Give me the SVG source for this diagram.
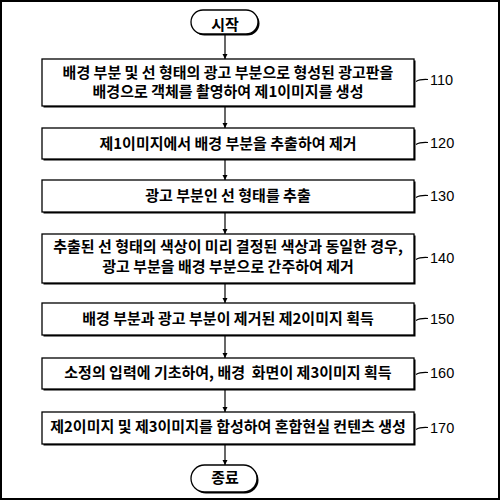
<svg xmlns="http://www.w3.org/2000/svg" width="500" height="500" viewBox="0 0 500 500">
<defs>
<marker id="ah" viewBox="0 0 10 10" refX="10" refY="5" markerWidth="5" markerHeight="7" markerUnits="userSpaceOnUse" orient="auto">
<path d="M0,0 L10,5 L0,10 Z" fill="#000"/>
</marker>
</defs>
<style>
.bx{fill:#fff;stroke:#000;stroke-width:1.3}
.sh{fill:#000}
.t{font-family:"Noto Sans CJK KR","Noto Sans",sans-serif;font-weight:bold;font-size:15px;text-anchor:middle;fill:#000}
.lb{font-family:"Liberation Sans",Arial,sans-serif;font-size:14.5px;fill:#000}
.ld{fill:none;stroke:#000;stroke-width:1.2}
.ar{stroke:#000;stroke-width:1.2;fill:none;marker-end:url(#ah)}
</style>
<rect x="1" y="1" width="498" height="498" fill="#fff" stroke="#000" stroke-width="2"/>
<g id="connectors">
<line class="ar" x1="225" y1="35" x2="225" y2="59"/>
<line class="ar" x1="225" y1="107" x2="225" y2="128"/>
<line class="ar" x1="225" y1="160" x2="225" y2="180"/>
<line class="ar" x1="225" y1="213" x2="225" y2="234"/>
<line class="ar" x1="225" y1="284" x2="225" y2="303"/>
<line class="ar" x1="225" y1="336" x2="225" y2="358"/>
<line class="ar" x1="225" y1="390" x2="225" y2="412"/>
<line class="ar" x1="225" y1="445" x2="225" y2="465"/>
</g>
<g id="start">
<rect class="sh" x="192.5" y="11.5" width="67" height="24" rx="12"/>
<rect class="bx" x="191" y="10" width="67" height="24" rx="12"/>
<text class="t" x="225" y="30">시작</text>
</g>
<g id="n110">
<rect class="sh" x="43.5" y="60.5" width="372" height="47"/>
<rect class="bx" x="42" y="59" width="372" height="47"/>
<text class="t" x="228" y="78">배경 부분 및 선 형태의 광고 부분으로 형성된 광고판을</text>
<text class="t" x="228" y="97">배경으로 객체를 촬영하여 제1이미지를 생성</text>
<path class="ld" d="M416,81.5 Q420,79 428,79.5"/>
<text class="lb" x="430" y="85">110</text>
</g>
<g id="n120">
<rect class="sh" x="43.5" y="129.5" width="372" height="31"/>
<rect class="bx" x="42" y="128" width="372" height="31"/>
<text class="t" x="228" y="149">제1이미지에서 배경 부분을 추출하여 제거</text>
<path class="ld" d="M416,144.5 Q420,142 428,142.5"/>
<text class="lb" x="430" y="148">120</text>
</g>
<g id="n130">
<rect class="sh" x="43.5" y="181.5" width="372" height="32"/>
<rect class="bx" x="42" y="180" width="372" height="32"/>
<text class="t" x="228" y="201">광고 부분인 선 형태를 추출</text>
<path class="ld" d="M416,197.5 Q420,195 428,195.5"/>
<text class="lb" x="430" y="201">130</text>
</g>
<g id="n140">
<rect class="sh" x="43.5" y="235.5" width="372" height="49"/>
<rect class="bx" x="42" y="234" width="372" height="49"/>
<text class="t" x="228" y="252">추출된 선 형태의 색상이 미리 결정된 색상과 동일한 경우,</text>
<text class="t" x="228" y="272">광고 부분을 배경 부분으로 간주하여 제거</text>
<path class="ld" d="M416,259.5 Q420,257 428,257.5"/>
<text class="lb" x="430" y="263">140</text>
</g>
<g id="n150">
<rect class="sh" x="43.5" y="304.5" width="372" height="32"/>
<rect class="bx" x="42" y="303" width="372" height="32"/>
<text class="t" x="228" y="324">배경 부분과 광고 부분이 제거된 제2이미지 획득</text>
<path class="ld" d="M416,320.5 Q420,318 428,318.5"/>
<text class="lb" x="430" y="324">150</text>
</g>
<g id="n160">
<rect class="sh" x="43.5" y="359.5" width="372" height="31"/>
<rect class="bx" x="42" y="358" width="372" height="31"/>
<text class="t" x="228" y="378" xml:space="preserve">소정의 입력에 기초하여, 배경  화면이 제3이미지 획득</text>
<path class="ld" d="M416,374.5 Q420,372 428,372.5"/>
<text class="lb" x="430" y="378">160</text>
</g>
<g id="n170">
<rect class="sh" x="43.5" y="413.5" width="372" height="32"/>
<rect class="bx" x="42" y="412" width="372" height="32"/>
<text class="t" x="228" y="432">제2이미지 및 제3이미지를 합성하여 혼합현실 컨텐츠 생성</text>
<path class="ld" d="M416,429.5 Q420,427 428,427.5"/>
<text class="lb" x="430" y="433">170</text>
</g>
<g id="end">
<rect class="sh" x="192.5" y="466.5" width="66" height="27" rx="13.5"/>
<rect class="bx" x="191" y="465" width="66" height="27" rx="13.5"/>
<text class="t" x="225" y="483">종료</text>
</g>
</svg>
